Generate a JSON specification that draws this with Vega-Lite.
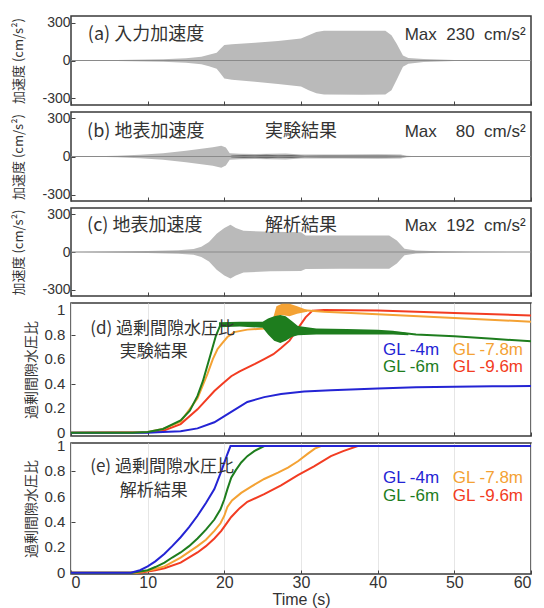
{
"$schema": "https://vega.github.io/schema/vega-lite/v6.json",
"background": "white",
"padding": {"left": 11, "top": 14, "right": 5, "bottom": 2},
"spacing": 7,
"bounds": "flush",
"config": {
  "view": {"stroke": "#3a3a3a", "strokeWidth": 1.5},
  "axis": {"domain": false, "grid": false, "labelOverlap": false, "tickSize": -4, "tickColor": "#444", "tickWidth": 1, "labelFont": "Liberation Sans", "labelColor": "#333", "titleFont": "Noto Sans CJK JP", "titleColor": "#333", "titleFontWeight": "normal"}
},
"datasets": {
  "acc": [
    {"p":"a","t":0,"hi":0,"lo":0},{"p":"a","t":4,"hi":2,"lo":-2},{"p":"a","t":8,"hi":5,"lo":-5},{"p":"a","t":12,"hi":10,"lo":-10},{"p":"a","t":15,"hi":18,"lo":-18},{"p":"a","t":17,"hi":30,"lo":-30},{"p":"a","t":18,"hi":45,"lo":-45},{"p":"a","t":19,"hi":62,"lo":-66},{"p":"a","t":19.5,"hi":92,"lo":-102},{"p":"a","t":20,"hi":122,"lo":-142},{"p":"a","t":21,"hi":128,"lo":-152},{"p":"a","t":24,"hi":140,"lo":-168},{"p":"a","t":27,"hi":155,"lo":-185},{"p":"a","t":30,"hi":175,"lo":-205},{"p":"a","t":31,"hi":200,"lo":-235},{"p":"a","t":32,"hi":225,"lo":-260},{"p":"a","t":33,"hi":236,"lo":-268},{"p":"a","t":38,"hi":236,"lo":-270},{"p":"a","t":41,"hi":235,"lo":-268},{"p":"a","t":41.8,"hi":200,"lo":-235},{"p":"a","t":42.5,"hi":130,"lo":-150},{"p":"a","t":43.3,"hi":40,"lo":-50},{"p":"a","t":44,"hi":20,"lo":-25},{"p":"a","t":46,"hi":12,"lo":-12},{"p":"a","t":50,"hi":4,"lo":-4},{"p":"a","t":55,"hi":1,"lo":-1},{"p":"a","t":60,"hi":0,"lo":0},
    {"p":"b","t":0,"hi":0,"lo":0},{"p":"b","t":3,"hi":2,"lo":-2},{"p":"b","t":6,"hi":6,"lo":-6},{"p":"b","t":9,"hi":14,"lo":-14},{"p":"b","t":12,"hi":26,"lo":-26},{"p":"b","t":15,"hi":45,"lo":-45},{"p":"b","t":17,"hi":60,"lo":-60},{"p":"b","t":18.5,"hi":72,"lo":-72},{"p":"b","t":19.6,"hi":85,"lo":-88},{"p":"b","t":20.2,"hi":70,"lo":-70},{"p":"b","t":20.7,"hi":25,"lo":-25},{"p":"b","t":22,"hi":22,"lo":-22},{"p":"b","t":24,"hi":20,"lo":-20},{"p":"b","t":26,"hi":22,"lo":-22},{"p":"b","t":28,"hi":24,"lo":-24},{"p":"b","t":30,"hi":16,"lo":-16},{"p":"b","t":35,"hi":16,"lo":-16},{"p":"b","t":40,"hi":18,"lo":-18},{"p":"b","t":43,"hi":15,"lo":-15},{"p":"b","t":43.8,"hi":5,"lo":-5},{"p":"b","t":45,"hi":2,"lo":-2},{"p":"b","t":50,"hi":0.5,"lo":-0.5},{"p":"b","t":60,"hi":0,"lo":0},
    {"p":"c","t":0,"hi":0,"lo":0},{"p":"c","t":5,"hi":3,"lo":-3},{"p":"c","t":10,"hi":8,"lo":-8},{"p":"c","t":14,"hi":14,"lo":-14},{"p":"c","t":16,"hi":24,"lo":-22},{"p":"c","t":17,"hi":42,"lo":-40},{"p":"c","t":18,"hi":80,"lo":-75},{"p":"c","t":19,"hi":145,"lo":-140},{"p":"c","t":20,"hi":190,"lo":-185},{"p":"c","t":20.8,"hi":215,"lo":-210},{"p":"c","t":21.5,"hi":190,"lo":-185},{"p":"c","t":22.5,"hi":168,"lo":-162},{"p":"c","t":26,"hi":160,"lo":-152},{"p":"c","t":30,"hi":157,"lo":-150},{"p":"c","t":30.6,"hi":130,"lo":-135},{"p":"c","t":35,"hi":130,"lo":-133},{"p":"c","t":41.5,"hi":130,"lo":-133},{"p":"c","t":42.5,"hi":90,"lo":-90},{"p":"c","t":43.5,"hi":25,"lo":-25},{"p":"c","t":45,"hi":12,"lo":-12},{"p":"c","t":48,"hi":5,"lo":-5},{"p":"c","t":52,"hi":1,"lo":-1},{"p":"c","t":60,"hi":0,"lo":0}
  ],
  "core": [
    {"p":"b","t":20.6,"hi":0,"lo":0},{"p":"b","t":21,"hi":8,"lo":-8},{"p":"b","t":22.5,"hi":12,"lo":-12},{"p":"b","t":24,"hi":10,"lo":-10},{"p":"b","t":25.5,"hi":13,"lo":-13},{"p":"b","t":27,"hi":9,"lo":-9},{"p":"b","t":28.8,"hi":12,"lo":-12},{"p":"b","t":30.5,"hi":5,"lo":-5},{"p":"b","t":33,"hi":7,"lo":-7},{"p":"b","t":37,"hi":8,"lo":-8},{"p":"b","t":41,"hi":7,"lo":-7},{"p":"b","t":43,"hi":5,"lo":-5},{"p":"b","t":43.8,"hi":0,"lo":0}
  ],
  "epwp": [
    {"p":"d","s":"GL -9.6m","t":0,"r":0},{"p":"d","s":"GL -9.6m","t":10,"r":0.003},{"p":"d","s":"GL -9.6m","t":12.2,"r":0.02},{"p":"d","s":"GL -9.6m","t":14.3,"r":0.07},{"p":"d","s":"GL -9.6m","t":16.5,"r":0.19},{"p":"d","s":"GL -9.6m","t":18.7,"r":0.34},{"p":"d","s":"GL -9.6m","t":19.8,"r":0.40},{"p":"d","s":"GL -9.6m","t":20.9,"r":0.46},{"p":"d","s":"GL -9.6m","t":22,"r":0.50},{"p":"d","s":"GL -9.6m","t":23,"r":0.53},{"p":"d","s":"GL -9.6m","t":24,"r":0.56},{"p":"d","s":"GL -9.6m","t":25.2,"r":0.60},{"p":"d","s":"GL -9.6m","t":26.4,"r":0.64},{"p":"d","s":"GL -9.6m","t":27.4,"r":0.69},{"p":"d","s":"GL -9.6m","t":28.5,"r":0.75},{"p":"d","s":"GL -9.6m","t":29.6,"r":0.85},{"p":"d","s":"GL -9.6m","t":30.6,"r":0.94},{"p":"d","s":"GL -9.6m","t":31.5,"r":0.995},{"p":"d","s":"GL -9.6m","t":33,"r":1.0},{"p":"d","s":"GL -9.6m","t":40,"r":0.995},{"p":"d","s":"GL -9.6m","t":50,"r":0.975},{"p":"d","s":"GL -9.6m","t":60,"r":0.955},
    {"p":"d","s":"GL -7.8m","t":0,"r":0},{"p":"d","s":"GL -7.8m","t":10,"r":0.005},{"p":"d","s":"GL -7.8m","t":12,"r":0.03},{"p":"d","s":"GL -7.8m","t":14.3,"r":0.09},{"p":"d","s":"GL -7.8m","t":16.5,"r":0.28},{"p":"d","s":"GL -7.8m","t":17.8,"r":0.48},{"p":"d","s":"GL -7.8m","t":18.5,"r":0.60},{"p":"d","s":"GL -7.8m","t":19.1,"r":0.68},{"p":"d","s":"GL -7.8m","t":19.6,"r":0.72},{"p":"d","s":"GL -7.8m","t":20.4,"r":0.78},{"p":"d","s":"GL -7.8m","t":21.3,"r":0.82},{"p":"d","s":"GL -7.8m","t":23,"r":0.84},{"p":"d","s":"GL -7.8m","t":25.2,"r":0.85},{"p":"d","s":"GL -7.8m","t":26.2,"r":0.87},{"p":"d","s":"GL -7.8m","t":26.8,"r":0.97},{"p":"d","s":"GL -7.8m","t":27.5,"r":1.0},{"p":"d","s":"GL -7.8m","t":30.8,"r":0.995},{"p":"d","s":"GL -7.8m","t":33,"r":0.985},{"p":"d","s":"GL -7.8m","t":40,"r":0.965},{"p":"d","s":"GL -7.8m","t":50,"r":0.935},{"p":"d","s":"GL -7.8m","t":60,"r":0.905},
    {"p":"d","s":"GL -4m","t":0,"r":0},{"p":"d","s":"GL -4m","t":10,"r":0},{"p":"d","s":"GL -4m","t":12,"r":0.005},{"p":"d","s":"GL -4m","t":14.3,"r":0.012},{"p":"d","s":"GL -4m","t":16.5,"r":0.035},{"p":"d","s":"GL -4m","t":18.7,"r":0.085},{"p":"d","s":"GL -4m","t":20.9,"r":0.17},{"p":"d","s":"GL -4m","t":23,"r":0.25},{"p":"d","s":"GL -4m","t":25.2,"r":0.29},{"p":"d","s":"GL -4m","t":27.4,"r":0.315},{"p":"d","s":"GL -4m","t":30.4,"r":0.335},{"p":"d","s":"GL -4m","t":33.9,"r":0.345},{"p":"d","s":"GL -4m","t":40,"r":0.36},{"p":"d","s":"GL -4m","t":45,"r":0.37},{"p":"d","s":"GL -4m","t":50,"r":0.375},{"p":"d","s":"GL -4m","t":55,"r":0.378},{"p":"d","s":"GL -4m","t":60,"r":0.38},
    {"p":"d","s":"GL -6m","t":0,"r":0},{"p":"d","s":"GL -6m","t":8,"r":0},{"p":"d","s":"GL -6m","t":10,"r":0.005},{"p":"d","s":"GL -6m","t":12,"r":0.03},{"p":"d","s":"GL -6m","t":14.3,"r":0.10},{"p":"d","s":"GL -6m","t":15.5,"r":0.18},{"p":"d","s":"GL -6m","t":16.5,"r":0.30},{"p":"d","s":"GL -6m","t":17.2,"r":0.42},{"p":"d","s":"GL -6m","t":17.8,"r":0.55},{"p":"d","s":"GL -6m","t":18.4,"r":0.68},{"p":"d","s":"GL -6m","t":18.9,"r":0.79},{"p":"d","s":"GL -6m","t":19.5,"r":0.88},{"p":"d","s":"GL -6m","t":21,"r":0.89},{"p":"d","s":"GL -6m","t":23,"r":0.885},{"p":"d","s":"GL -6m","t":25,"r":0.88},{"p":"d","s":"GL -6m","t":26,"r":0.86},{"p":"d","s":"GL -6m","t":27,"r":0.845},{"p":"d","s":"GL -6m","t":28,"r":0.835},{"p":"d","s":"GL -6m","t":30,"r":0.825},{"p":"d","s":"GL -6m","t":35,"r":0.825},{"p":"d","s":"GL -6m","t":40,"r":0.82},{"p":"d","s":"GL -6m","t":43,"r":0.815},{"p":"d","s":"GL -6m","t":45,"r":0.80},{"p":"d","s":"GL -6m","t":50,"r":0.785},{"p":"d","s":"GL -6m","t":55,"r":0.765},{"p":"d","s":"GL -6m","t":60,"r":0.745},
    {"p":"e","s":"GL -9.6m","t":0,"r":0},{"p":"e","s":"GL -9.6m","t":9,"r":0},{"p":"e","s":"GL -9.6m","t":10,"r":0.01},{"p":"e","s":"GL -9.6m","t":11,"r":0.02},{"p":"e","s":"GL -9.6m","t":12.2,"r":0.035},{"p":"e","s":"GL -9.6m","t":14.3,"r":0.08},{"p":"e","s":"GL -9.6m","t":16.5,"r":0.16},{"p":"e","s":"GL -9.6m","t":17.6,"r":0.21},{"p":"e","s":"GL -9.6m","t":18.7,"r":0.27},{"p":"e","s":"GL -9.6m","t":19.6,"r":0.33},{"p":"e","s":"GL -9.6m","t":20.3,"r":0.39},{"p":"e","s":"GL -9.6m","t":20.9,"r":0.44},{"p":"e","s":"GL -9.6m","t":22,"r":0.51},{"p":"e","s":"GL -9.6m","t":23,"r":0.56},{"p":"e","s":"GL -9.6m","t":25.2,"r":0.62},{"p":"e","s":"GL -9.6m","t":27.4,"r":0.69},{"p":"e","s":"GL -9.6m","t":29.6,"r":0.77},{"p":"e","s":"GL -9.6m","t":31.7,"r":0.84},{"p":"e","s":"GL -9.6m","t":33.9,"r":0.92},{"p":"e","s":"GL -9.6m","t":35.5,"r":0.96},{"p":"e","s":"GL -9.6m","t":37.4,"r":1.0},{"p":"e","s":"GL -9.6m","t":60,"r":1.0},
    {"p":"e","s":"GL -7.8m","t":0,"r":0},{"p":"e","s":"GL -7.8m","t":8.5,"r":0},{"p":"e","s":"GL -7.8m","t":10,"r":0.015},{"p":"e","s":"GL -7.8m","t":11,"r":0.03},{"p":"e","s":"GL -7.8m","t":12.2,"r":0.05},{"p":"e","s":"GL -7.8m","t":14.3,"r":0.12},{"p":"e","s":"GL -7.8m","t":16.5,"r":0.21},{"p":"e","s":"GL -7.8m","t":17.6,"r":0.26},{"p":"e","s":"GL -7.8m","t":18.7,"r":0.33},{"p":"e","s":"GL -7.8m","t":19.5,"r":0.39},{"p":"e","s":"GL -7.8m","t":20,"r":0.45},{"p":"e","s":"GL -7.8m","t":20.4,"r":0.52},{"p":"e","s":"GL -7.8m","t":21,"r":0.57},{"p":"e","s":"GL -7.8m","t":22.2,"r":0.63},{"p":"e","s":"GL -7.8m","t":23.5,"r":0.68},{"p":"e","s":"GL -7.8m","t":25.2,"r":0.74},{"p":"e","s":"GL -7.8m","t":27,"r":0.79},{"p":"e","s":"GL -7.8m","t":28.3,"r":0.83},{"p":"e","s":"GL -7.8m","t":29.6,"r":0.88},{"p":"e","s":"GL -7.8m","t":30.9,"r":0.94},{"p":"e","s":"GL -7.8m","t":31.8,"r":0.98},{"p":"e","s":"GL -7.8m","t":32.6,"r":1.0},{"p":"e","s":"GL -7.8m","t":60,"r":1.0},
    {"p":"e","s":"GL -6m","t":0,"r":0},{"p":"e","s":"GL -6m","t":8,"r":0},{"p":"e","s":"GL -6m","t":9,"r":0.01},{"p":"e","s":"GL -6m","t":10,"r":0.02},{"p":"e","s":"GL -6m","t":11,"r":0.045},{"p":"e","s":"GL -6m","t":12.2,"r":0.08},{"p":"e","s":"GL -6m","t":13.2,"r":0.12},{"p":"e","s":"GL -6m","t":14.3,"r":0.16},{"p":"e","s":"GL -6m","t":15.4,"r":0.21},{"p":"e","s":"GL -6m","t":16.5,"r":0.27},{"p":"e","s":"GL -6m","t":17.6,"r":0.34},{"p":"e","s":"GL -6m","t":18.7,"r":0.42},{"p":"e","s":"GL -6m","t":19.5,"r":0.50},{"p":"e","s":"GL -6m","t":20,"r":0.58},{"p":"e","s":"GL -6m","t":20.4,"r":0.66},{"p":"e","s":"GL -6m","t":20.9,"r":0.75},{"p":"e","s":"GL -6m","t":21.5,"r":0.81},{"p":"e","s":"GL -6m","t":22.2,"r":0.87},{"p":"e","s":"GL -6m","t":23,"r":0.92},{"p":"e","s":"GL -6m","t":23.9,"r":0.96},{"p":"e","s":"GL -6m","t":25.2,"r":1.0},{"p":"e","s":"GL -6m","t":60,"r":1.0},
    {"p":"e","s":"GL -4m","t":0,"r":0},{"p":"e","s":"GL -4m","t":7.8,"r":0},{"p":"e","s":"GL -4m","t":9,"r":0.02},{"p":"e","s":"GL -4m","t":10,"r":0.05},{"p":"e","s":"GL -4m","t":11,"r":0.09},{"p":"e","s":"GL -4m","t":12.2,"r":0.15},{"p":"e","s":"GL -4m","t":13.2,"r":0.21},{"p":"e","s":"GL -4m","t":14.3,"r":0.28},{"p":"e","s":"GL -4m","t":15.4,"r":0.36},{"p":"e","s":"GL -4m","t":16.5,"r":0.45},{"p":"e","s":"GL -4m","t":17.6,"r":0.55},{"p":"e","s":"GL -4m","t":18.7,"r":0.66},{"p":"e","s":"GL -4m","t":19.6,"r":0.80},{"p":"e","s":"GL -4m","t":20.3,"r":0.92},{"p":"e","s":"GL -4m","t":20.8,"r":1.0},{"p":"e","s":"GL -4m","t":60,"r":1.0}
  ],
  "band": [
    {"p":"d","s":"GL -7.8m","t":26.3,"lo":0.87,"hi":0.92},{"p":"d","s":"GL -7.8m","t":26.8,"lo":0.95,"hi":1.03},{"p":"d","s":"GL -7.8m","t":27.5,"lo":0.96,"hi":1.05},{"p":"d","s":"GL -7.8m","t":28.5,"lo":0.95,"hi":1.05},{"p":"d","s":"GL -7.8m","t":29.5,"lo":0.97,"hi":1.03},{"p":"d","s":"GL -7.8m","t":30.8,"lo":0.985,"hi":1.0},
    {"p":"d","s":"GL -6m","t":19.3,"lo":0.86,"hi":0.90},{"p":"d","s":"GL -6m","t":22,"lo":0.865,"hi":0.905},{"p":"d","s":"GL -6m","t":25,"lo":0.855,"hi":0.905},{"p":"d","s":"GL -6m","t":25.7,"lo":0.80,"hi":0.93},{"p":"d","s":"GL -6m","t":26.5,"lo":0.75,"hi":0.95},{"p":"d","s":"GL -6m","t":27.3,"lo":0.73,"hi":0.96},{"p":"d","s":"GL -6m","t":28,"lo":0.75,"hi":0.95},{"p":"d","s":"GL -6m","t":28.8,"lo":0.78,"hi":0.91},{"p":"d","s":"GL -6m","t":29.6,"lo":0.795,"hi":0.87},{"p":"d","s":"GL -6m","t":32,"lo":0.80,"hi":0.85},{"p":"d","s":"GL -6m","t":36,"lo":0.80,"hi":0.845},{"p":"d","s":"GL -6m","t":40,"lo":0.80,"hi":0.84},{"p":"d","s":"GL -6m","t":42,"lo":0.80,"hi":0.83},{"p":"d","s":"GL -6m","t":44,"lo":0.795,"hi":0.81}
  ],
  "notes": [
    {"p":"a","k":"left","t":2.2,"v":205,"text":"(a) 入力加速度"},
    {"p":"a","k":"right","t":59.3,"v":205,"text":"Max\u00a0\u00a0230\u00a0\u00a0cm/s²"},
    {"p":"b","k":"left","t":2.1,"v":196,"text":"(b) 地表加速度"},
    {"p":"b","k":"center","t":30,"v":196,"text":"実験結果"},
    {"p":"b","k":"right","t":59.3,"v":196,"text":"Max\u00a0\u00a0\u00a0\u00a080\u00a0\u00a0cm/s²"},
    {"p":"c","k":"left","t":2.1,"v":205,"text":"(c) 地表加速度"},
    {"p":"c","k":"center","t":30,"v":205,"text":"解析結果"},
    {"p":"c","k":"right","t":59.3,"v":205,"text":"Max\u00a0\u00a0192\u00a0\u00a0cm/s²"},
    {"p":"d","k":"left","t":2.5,"v":0.845,"text":"(d) 過剰間隙水圧比"},
    {"p":"d","k":"center","t":10.8,"v":0.66,"text":"実験結果"},
    {"p":"e","k":"left","t":2.5,"v":0.835,"text":"(e) 過剰間隙水圧比"},
    {"p":"e","k":"center","t":10.8,"v":0.645,"text":"解析結果"}
  ],
  "yticks": [
    {"v":0,"lab":"0"},{"v":0.2,"lab":"0.2"},{"v":0.4,"lab":"0.4"},{"v":0.6,"lab":"0.6"},{"v":0.8,"lab":"0.8"},{"v":1,"lab":"1"}
  ],
  "keys": [
    {"p":"d","s":"GL -4m","t":40.7,"v":0.675},{"p":"d","s":"GL -7.8m","t":49.8,"v":0.675},{"p":"d","s":"GL -6m","t":40.7,"v":0.535},{"p":"d","s":"GL -9.6m","t":49.8,"v":0.535},
    {"p":"e","s":"GL -4m","t":40.7,"v":0.75},{"p":"e","s":"GL -7.8m","t":49.8,"v":0.75},{"p":"e","s":"GL -6m","t":40.7,"v":0.605},{"p":"e","s":"GL -9.6m","t":49.8,"v":0.605}
  ]
},
"vconcat": [
  {"width": 460, "height": 89, "layer": [
    {"data":{"name":"acc"},"transform":[{"filter":"datum.p==='a'"}],"mark":{"type":"area","color":"#bababa"},
     "encoding":{"x":{"field":"t","type":"quantitative","scale":{"domain":[0,60],"nice":false,"zero":false},"axis":{"orient":"bottom","values":[0,10,20,30,40,50,60],"labels":false,"title":null}},
       "y":{"field":"hi","type":"quantitative","scale":{"domain":[-352,352],"nice":false,"zero":false},"axis":{"orient":"left","values":[-300,-150,0,150,300],"labelOverlap":false,"labelExpr":"abs(datum.value)==150?'':toString(datum.value)","labelFontSize":14,"labelPadding":5,"title":"加速度 (cm/s²)","titleFontSize":13,"titleX":-53,"titleBaseline":"middle"}},
       "y2":{"field":"lo"}}},
    {"data":{"values":[{}]},"mark":{"type":"rule","color":"#8a8a8a","strokeWidth":1},"encoding":{"y":{"datum":0}}},
    {"data":{"name":"notes"},"transform":[{"filter":"datum.p==='a' && datum.k==='left'"}],"mark":{"type":"text","align":"left","baseline":"middle","font":"Noto Sans CJK JP","fontSize":18,"color":"#333"},
     "encoding":{"x":{"field":"t","type":"quantitative"},"y":{"field":"v","type":"quantitative"},"text":{"field":"text"}}},
    {"data":{"name":"notes"},"transform":[{"filter":"datum.p==='a' && datum.k==='right'"}],"mark":{"type":"text","align":"right","baseline":"middle","font":"Liberation Sans","fontSize":17,"color":"#333"},
     "encoding":{"x":{"field":"t","type":"quantitative"},"y":{"field":"v","type":"quantitative"},"text":{"field":"text"}}}
  ]},
  {"width": 460, "height": 89, "layer": [
    {"data":{"name":"acc"},"transform":[{"filter":"datum.p==='b'"}],"mark":{"type":"area","color":"#bababa"},
     "encoding":{"x":{"field":"t","type":"quantitative","scale":{"domain":[0,60],"nice":false,"zero":false},"axis":{"orient":"bottom","values":[0,10,20,30,40,50,60],"labels":false,"title":null}},
       "y":{"field":"hi","type":"quantitative","scale":{"domain":[-350,350],"nice":false,"zero":false},"axis":{"orient":"left","values":[-300,-150,0,150,300],"labelOverlap":false,"labelExpr":"abs(datum.value)==150?'':toString(datum.value)","labelFontSize":14,"labelPadding":5,"title":"加速度 (cm/s²)","titleFontSize":13,"titleX":-53,"titleBaseline":"middle"}},
       "y2":{"field":"lo"}}},
    {"data":{"name":"core"},"transform":[{"filter":"datum.p==='b'"}],"mark":{"type":"area","color":"#6a6a6a"},
     "encoding":{"x":{"field":"t","type":"quantitative"},"y":{"field":"hi","type":"quantitative"},"y2":{"field":"lo"}}},
    {"data":{"values":[{}]},"mark":{"type":"rule","color":"#8a8a8a","strokeWidth":1},"encoding":{"y":{"datum":0}}},
    {"data":{"name":"notes"},"transform":[{"filter":"datum.p==='b' && datum.k==='left'"}],"mark":{"type":"text","align":"left","baseline":"middle","font":"Noto Sans CJK JP","fontSize":18,"color":"#333"},
     "encoding":{"x":{"field":"t","type":"quantitative"},"y":{"field":"v","type":"quantitative"},"text":{"field":"text"}}},
    {"data":{"name":"notes"},"transform":[{"filter":"datum.p==='b' && datum.k==='center'"}],"mark":{"type":"text","align":"center","baseline":"middle","font":"Noto Sans CJK JP","fontSize":18,"color":"#333"},
     "encoding":{"x":{"field":"t","type":"quantitative"},"y":{"field":"v","type":"quantitative"},"text":{"field":"text"}}},
    {"data":{"name":"notes"},"transform":[{"filter":"datum.p==='b' && datum.k==='right'"}],"mark":{"type":"text","align":"right","baseline":"middle","font":"Liberation Sans","fontSize":17,"color":"#333"},
     "encoding":{"x":{"field":"t","type":"quantitative"},"y":{"field":"v","type":"quantitative"},"text":{"field":"text"}}}
  ]},
  {"width": 460, "height": 88, "layer": [
    {"data":{"name":"acc"},"transform":[{"filter":"datum.p==='c'"}],"mark":{"type":"area","color":"#bababa"},
     "encoding":{"x":{"field":"t","type":"quantitative","scale":{"domain":[0,60],"nice":false,"zero":false},"axis":{"orient":"bottom","values":[0,10,20,30,40,50,60],"labels":false,"title":null}},
       "y":{"field":"hi","type":"quantitative","scale":{"domain":[-348,348],"nice":false,"zero":false},"axis":{"orient":"left","values":[-300,-150,0,150,300],"labelOverlap":false,"labelExpr":"abs(datum.value)==150?'':toString(datum.value)","labelFontSize":14,"labelPadding":5,"title":"加速度 (cm/s²)","titleFontSize":13,"titleX":-53,"titleBaseline":"middle"}},
       "y2":{"field":"lo"}}},
    {"data":{"values":[{}]},"mark":{"type":"rule","color":"#8a8a8a","strokeWidth":1},"encoding":{"y":{"datum":0}}},
    {"data":{"name":"notes"},"transform":[{"filter":"datum.p==='c' && datum.k==='left'"}],"mark":{"type":"text","align":"left","baseline":"middle","font":"Noto Sans CJK JP","fontSize":18,"color":"#333"},
     "encoding":{"x":{"field":"t","type":"quantitative"},"y":{"field":"v","type":"quantitative"},"text":{"field":"text"}}},
    {"data":{"name":"notes"},"transform":[{"filter":"datum.p==='c' && datum.k==='center'"}],"mark":{"type":"text","align":"center","baseline":"middle","font":"Noto Sans CJK JP","fontSize":18,"color":"#333"},
     "encoding":{"x":{"field":"t","type":"quantitative"},"y":{"field":"v","type":"quantitative"},"text":{"field":"text"}}},
    {"data":{"name":"notes"},"transform":[{"filter":"datum.p==='c' && datum.k==='right'"}],"mark":{"type":"text","align":"right","baseline":"middle","font":"Liberation Sans","fontSize":17,"color":"#333"},
     "encoding":{"x":{"field":"t","type":"quantitative"},"y":{"field":"v","type":"quantitative"},"text":{"field":"text"}}}
  ]},
  {"width": 460, "height": 133, "layer": [
    {"data":{"name":"epwp"},"transform":[{"filter":"datum.p==='d'"}],"mark":{"type":"line","strokeWidth":2},
     "encoding":{"x":{"field":"t","type":"quantitative","scale":{"domain":[0,60],"nice":false,"zero":false},"axis":{"orient":"bottom","values":[0,10,20,30,40,50,60],"labels":false,"title":null,"grid":true,"gridColor":"#e6e6e6"}},
       "y":{"field":"r","type":"quantitative","scale":{"domain":[-0.027,1.057],"nice":false,"zero":false},"axis":{"orient":"left","values":[0,0.2,0.4,0.6,0.8,1],"labels":false,"title":"過剰間隙水圧比","titleFontSize":14,"titleX":-40,"titleBaseline":"middle"}},
       "color":{"field":"s","type":"nominal","scale":{"domain":["GL -4m","GL -6m","GL -7.8m","GL -9.6m"],"range":["#2424d4","#1e7d1e","#f4a234","#f23c22"]},"legend":null},
       "detail":{"field":"s"}}},
    {"data":{"name":"band"},"transform":[{"filter":"datum.p==='d' && datum.s==='GL -7.8m'"}],"mark":{"type":"area"},
     "encoding":{"x":{"field":"t","type":"quantitative"},"y":{"field":"lo","type":"quantitative"},"y2":{"field":"hi"},"color":{"field":"s","type":"nominal","legend":null}}},
    {"data":{"name":"band"},"transform":[{"filter":"datum.p==='d' && datum.s==='GL -6m'"}],"mark":{"type":"area"},
     "encoding":{"x":{"field":"t","type":"quantitative"},"y":{"field":"lo","type":"quantitative"},"y2":{"field":"hi"},"color":{"field":"s","type":"nominal","legend":null}}},
    {"data":{"name":"yticks"},"mark":{"type":"text","align":"right","baseline":"middle","font":"Liberation Sans","fontSize":15,"color":"#333"},
     "encoding":{"x":{"datum":-0.75},"y":{"field":"v","type":"quantitative"},"text":{"field":"lab"}}},
    {"data":{"name":"notes"},"transform":[{"filter":"datum.p==='d' && datum.k==='left'"}],"mark":{"type":"text","align":"left","baseline":"middle","font":"Noto Sans CJK JP","fontSize":17,"color":"#333"},
     "encoding":{"x":{"field":"t","type":"quantitative"},"y":{"field":"v","type":"quantitative"},"text":{"field":"text"}}},
    {"data":{"name":"notes"},"transform":[{"filter":"datum.p==='d' && datum.k==='center'"}],"mark":{"type":"text","align":"center","baseline":"middle","font":"Noto Sans CJK JP","fontSize":17,"color":"#333"},
     "encoding":{"x":{"field":"t","type":"quantitative"},"y":{"field":"v","type":"quantitative"},"text":{"field":"text"}}},
    {"data":{"name":"keys"},"transform":[{"filter":"datum.p==='d'"}],"mark":{"type":"text","align":"left","baseline":"middle","font":"Liberation Sans","fontSize":17},
     "encoding":{"x":{"field":"t","type":"quantitative"},"y":{"field":"v","type":"quantitative"},"text":{"field":"s"},"color":{"field":"s","type":"nominal","legend":null}}}
  ]},
  {"width": 460, "height": 131, "layer": [
    {"data":{"name":"epwp"},"transform":[{"filter":"datum.p==='e'"}],"mark":{"type":"line","strokeWidth":2},
     "encoding":{"x":{"field":"t","type":"quantitative","scale":{"domain":[0,60],"nice":false,"zero":false},"axis":{"orient":"bottom","values":[0,10,20,30,40,50,60],"labelOverlap":false,"labelFontSize":16,"labelPadding":4,"title":"Time (s)","titleFont":"Liberation Sans","titleFontSize":16,"titlePadding":1,"grid":true,"gridColor":"#e6e6e6"}},
       "y":{"field":"r","type":"quantitative","scale":{"domain":[-0.01,1.024],"nice":false,"zero":false},"axis":{"orient":"left","values":[0,0.2,0.4,0.6,0.8,1],"labels":false,"title":"過剰間隙水圧比","titleFontSize":14,"titleX":-40,"titleBaseline":"middle"}},
       "color":{"field":"s","type":"nominal","scale":{"domain":["GL -4m","GL -6m","GL -7.8m","GL -9.6m"],"range":["#2424d4","#1e7d1e","#f4a234","#f23c22"]},"legend":null},
       "detail":{"field":"s"}}},
    {"data":{"name":"yticks"},"mark":{"type":"text","align":"right","baseline":"middle","font":"Liberation Sans","fontSize":15,"color":"#333"},
     "encoding":{"x":{"datum":-0.75},"y":{"field":"v","type":"quantitative"},"text":{"field":"lab"}}},
    {"data":{"name":"notes"},"transform":[{"filter":"datum.p==='e' && datum.k==='left'"}],"mark":{"type":"text","align":"left","baseline":"middle","font":"Noto Sans CJK JP","fontSize":17,"color":"#333"},
     "encoding":{"x":{"field":"t","type":"quantitative"},"y":{"field":"v","type":"quantitative"},"text":{"field":"text"}}},
    {"data":{"name":"notes"},"transform":[{"filter":"datum.p==='e' && datum.k==='center'"}],"mark":{"type":"text","align":"center","baseline":"middle","font":"Noto Sans CJK JP","fontSize":17,"color":"#333"},
     "encoding":{"x":{"field":"t","type":"quantitative"},"y":{"field":"v","type":"quantitative"},"text":{"field":"text"}}},
    {"data":{"name":"keys"},"transform":[{"filter":"datum.p==='e'"}],"mark":{"type":"text","align":"left","baseline":"middle","font":"Liberation Sans","fontSize":17},
     "encoding":{"x":{"field":"t","type":"quantitative"},"y":{"field":"v","type":"quantitative"},"text":{"field":"s"},"color":{"field":"s","type":"nominal","legend":null}}}
  ]}
]
}
